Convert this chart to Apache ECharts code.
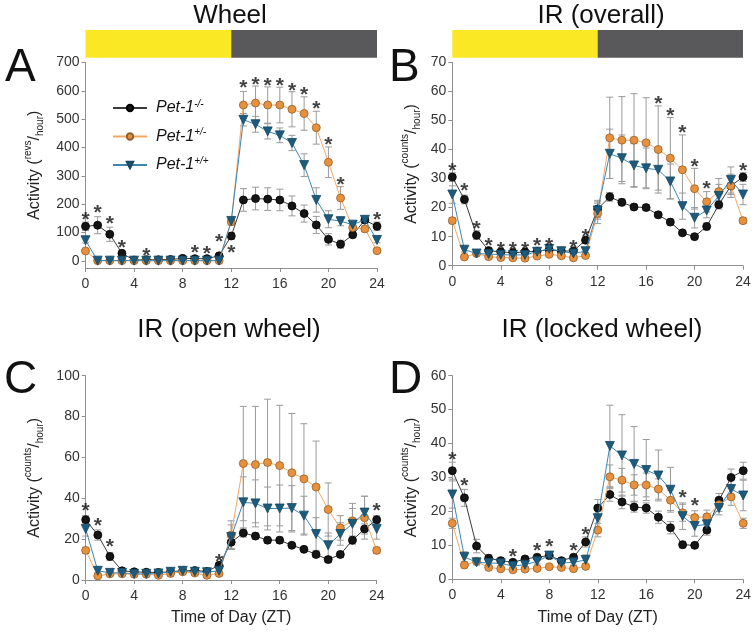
<!DOCTYPE html>
<html><head><meta charset="utf-8">
<script src="https://cdn.jsdelivr.net/npm/echarts@6/dist/echarts.min.js"></script>
<style>html,body{margin:0;padding:0;background:#fff}#c{width:754px;height:632px}</style>
</head><body><div id="c"></div>
<script>
// ---------- DATA ----------
const hours = [0,1,2,3,4,5,6,7,8,9,10,11,12,13,14,15,16,17,18,19,20,21,22,23,24];
const seriesNames = ['Pet-1-/-','Pet-1+/-','Pet-1+/+'];
const phaseSpans = [[0,12],[12,24]];          // light, dark
const wheelTicks = [0,100,200,300,400,500,600,700];

// Panel A – Wheel (revs/hour)
const wheel_ko      = [122,126,94,27,3,4,4,5,9,8,8,18,88,215,220,218,215,194,167,127,76,59,92,144,122];
const wheel_ko_err  = [15,30,25,8,2,2,2,2,3,3,3,5,12,40,40,40,38,35,30,30,20,14,10,10,15];
const wheel_het     = [35,1,1,1,1,1,1,1,1,1,1,1,138,550,557,550,550,535,520,470,348,222,118,113,36];
const wheel_het_err = [6,1,1,1,1,1,1,1,1,1,1,1,12,48,60,64,63,62,59,58,54,40,10,10,6];
const wheel_wt      = [73,1,1,1,1,1,1,1,1,1,1,1,141,498,482,457,443,416,338,215,147,140,128,145,74];
const wheel_wt_err  = [10,1,1,1,1,1,1,1,1,1,1,1,12,22,28,27,26,27,40,43,30,16,8,10,10];
const wheel_stars   = [[0,162],[1,186],[2,146],[3,63],[5,35],[9,45],[10,42],[11,82],[12,44],[13,628],[14,638],[15,634],[16,634],[17,618],[18,604],[19,552],[20,425],[21,283],[24,162]];

// Panel B – IR overall (counts/hour)
const ir_ko      = [30.5,22.8,10.5,5.2,4.7,4.5,4.7,5.0,5.5,5.0,5.1,8.8,19.5,23.7,21.8,20.2,20.0,17.5,15.0,11.3,10.0,13.5,21.0,27.5,30.5];
const ir_ko_err  = [1.5,1.5,1.5,0.8,0.6,0.6,0.6,0.6,0.6,0.6,0.6,1.2,3,1.5,1.2,1,1,1,1,0.8,0.6,1.2,1.5,3,1.5];
const ir_het     = [15.5,3.0,4.2,3.1,2.8,2.7,2.6,3.3,3.9,3.4,2.7,3.5,18.0,44.0,43.2,43.2,42.3,40.0,37.0,33.0,26.5,22.0,25.5,27.5,15.5];
const ir_het_err = [1,0.6,0.5,0.5,0.5,0.5,0.5,0.5,0.6,0.5,0.5,0.6,3.5,14,15,16,15.5,15,14,12,7,3.5,4.5,4,1];
const ir_wt      = [24.5,5.5,4.2,4.0,3.8,3.7,3.7,4.8,5.8,5.0,4.2,5.0,19.0,38.5,37.0,34.5,33.5,33.0,29.0,20.5,16.5,19.0,24.0,29.5,24.5];
const ir_wt_err  = [3,0.8,0.5,0.5,0.5,0.5,0.5,0.6,0.6,0.6,0.5,0.6,3,8.5,8,7.5,7,7,6,4.5,3.5,2.5,4,4.5,3.5];
const ir_stars   = [[0,34.4],[1,27.2],[2,14.3],[3,8.3],[4,7.1],[5,7.1],[6,7.1],[7,8.3],[8,8.3],[10,7.9],[11,11.5],[17,57.4],[18,53],[19,47.3],[20,35.6],[21,28],[24,34.4]];

// Panel C – IR open wheel
const open_ko      = [29.5,22,11.5,4.5,4.0,3.8,3.7,4.0,4.5,4.6,4.2,7.2,18.5,23,21.5,19.5,19.5,17,15,12.5,10,12.5,19.5,25,29.5];
const open_ko_err  = [2,2.5,2,0.8,0.6,0.6,0.6,0.6,0.6,0.6,0.6,1.2,3,2,1.5,1.5,1.5,1,1,1.5,1.5,1.5,2,2.5,2];
const open_het     = [14.5,2.0,3.0,3.0,2.8,2.8,2.3,3.2,4.0,3.4,2.3,3.2,22,57,56.5,57.5,56,52.5,49.5,45.5,34.5,25.5,29,30.5,14.5];
const open_het_err = [1.5,0.5,0.5,0.5,0.5,0.5,0.5,0.5,0.5,0.5,0.5,0.5,7,28,28.5,31,29.5,29,27,22.5,13,6,8.5,10.5,1.5];
const open_wt      = [25,4.5,3.5,3.5,3.0,3.0,3.2,4.0,4.5,4.0,3.8,4.5,21,38,37.5,35,35,35.2,31.5,22.5,17,22.5,27.5,33,25];
const open_wt_err  = [3.5,1,0.5,0.5,0.5,0.5,0.5,0.5,0.5,0.5,0.5,0.8,6,12.5,11.5,10.5,11.5,11,9.5,8,6,5.5,7.5,8,5];
const open_stars   = [[0,35.9],[1,29],[2,18.3],[11,11.4],[24,35.9]];

// Panel D – IR locked wheel
const lock_ko      = [32,24,9.8,6.2,5.5,5.0,6.0,6.5,7.0,5.5,6.5,11.0,21.0,25.0,22.8,21.3,21.0,18.3,15.2,10.2,10.0,14.5,23.3,30.0,32];
const lock_ko_err  = [2.5,2.5,2,1,0.8,0.8,0.8,0.8,0.8,0.8,0.8,1.5,2.5,2,2,1.5,1.5,1.8,1.8,1,0.8,1.5,2,2.5,2.5];
const lock_het     = [16.5,4.2,5.3,3.5,3.1,2.8,3.0,3.2,3.7,3.5,3.1,3.8,14.5,30.2,29.2,27.8,27.8,26.6,23.3,19.6,18.2,18.4,22.0,24.3,16.5];
const lock_het_err = [1.5,0.8,0.5,0.5,0.5,0.5,0.5,0.5,0.5,0.5,0.5,0.6,2,3.5,3.5,3,3.5,3,3,2.5,2,2,2,2.5,1.5];
const lock_wt      = [25,6.6,5.0,4.8,4.7,3.9,4.3,5.3,7.0,4.8,5.0,5.7,18.0,39.3,36.5,34.0,32.2,30.6,26.4,18.6,15.7,16.2,21.0,26.6,24.7];
const lock_wt_err  = [4,1.5,0.8,0.8,0.8,0.8,0.8,0.8,1,0.8,0.8,1.5,3,12,12,11,9,7.5,6.6,3.9,3,2.5,2,3,4.5];
const lock_stars   = [[0,36.6],[1,28.8],[5,7.9],[7,9.8],[8,10.8],[10,9.8],[11,14.5],[19,25.3],[20,23.1]];

// ---------- STYLE ----------
const FONT = '"Liberation Sans", Arial, sans-serif';
const AXIS_COLOR = '#8f8f8f';
const LABEL_COLOR = '#333';
const styles = [
  {line:'#3a3a3a', fill:'#151515', border:'#000000', symbol:'circle', size:8, rot:0},
  {line:'#f2a765', fill:'#e8913c', border:'#94602f', symbol:'circle', size:8, rot:0},
  {line:'#3d86b2', fill:'#1d5b7c', border:'#164862', symbol:'triangle', size:9, rot:180}
];

const grids = [
  {left:85.5, top:62.5, width:291.5, height:205.5},   // A
  {left:452.3, top:62.3, width:290.7, height:203.4},  // B
  {left:85.7, top:375.7, width:291, height:204.3},    // C
  {left:452.3, top:375.7, width:291, height:203.6},   // D
  {left:85.5, top:30, width:291.5, height:27.7},      // bar A
  {left:452.3, top:30, width:290.7, height:27.7}      // bar B
];

function errRender(params, api) {
  const x = api.value(0), lo = api.value(1), hi = api.value(2);
  const p1 = api.coord([x, hi]), p2 = api.coord([x, lo]);
  const w = 3.5, st = {stroke:'#9a9a9a', lineWidth:1};
  return {type:'group', children:[
    {type:'line', shape:{x1:p1[0], y1:p1[1], x2:p2[0], y2:p2[1]}, style:st},
    {type:'line', shape:{x1:p1[0]-w, y1:p1[1], x2:p1[0]+w, y2:p1[1]}, style:st},
    {type:'line', shape:{x1:p2[0]-w, y1:p2[1], x2:p2[0]+w, y2:p2[1]}, style:st}
  ]};
}
function phaseRender(params, api) {
  const a = api.coord([api.value(0), 1]), b = api.coord([api.value(1), 0]);
  return {type:'rect', shape:{x:a[0], y:a[1], width:b[0]-a[0], height:b[1]-a[1]},
    style:{fill: params.dataIndex === 0 ? '#fbe824' : '#59595b'}};
}

const series = [];
function addPanel(idx, sets, stars) {
  sets.forEach((s, k) => {
    series.push({type:'custom', xAxisIndex:idx, yAxisIndex:idx, silent:true, z:1,
      renderItem: errRender, encode:{x:0, y:[1,2]},
      data: hours.map((h,i) => [h, s[0][i]-s[1][i], s[0][i]+s[1][i]])});
  });
  [1,0,2].forEach(k => {
    const st = styles[k];
    series.push({type:'line', name:seriesNames[k], xAxisIndex:idx, yAxisIndex:idx, z:3 + k*0.1,
      data: hours.map((h,i) => [h, sets[k][0][i]]),
      symbol: st.symbol, symbolSize: st.size, symbolRotate: st.rot, showAllSymbol:true,
      lineStyle:{color:st.line, width:1},
      itemStyle:{color:st.fill, borderColor:st.border, borderWidth:0.8},
      emphasis:{disabled:true}, animation:false});
  });
  series.push({type:'scatter', xAxisIndex:idx, yAxisIndex:idx, z:5, silent:true,
    data: stars, symbolSize:1, itemStyle:{color:'rgba(0,0,0,0)'},
    label:{show:true, formatter:'*', position:'inside', fontSize:21, fontWeight:'bold', color:'#111',
      fontFamily:FONT, offset:[0,5]}});
}
addPanel(0, [[wheel_ko,wheel_ko_err],[wheel_het,wheel_het_err],[wheel_wt,wheel_wt_err]], wheel_stars);
addPanel(1, [[ir_ko,ir_ko_err],[ir_het,ir_het_err],[ir_wt,ir_wt_err]], ir_stars);
addPanel(2, [[open_ko,open_ko_err],[open_het,open_het_err],[open_wt,open_wt_err]], open_stars);
addPanel(3, [[lock_ko,lock_ko_err],[lock_het,lock_het_err],[lock_wt,lock_wt_err]], lock_stars);
[4,5].forEach(idx => series.push({type:'custom', xAxisIndex:idx, yAxisIndex:idx, silent:true,
  renderItem: phaseRender, encode:{x:[0,1]}, data: phaseSpans}));

const yName = unit => '{a|Activity (}{s|' + unit + '}{a|/}{b|hour}{a|)}';
const nameRich = {
  a:{fontSize:16, fontFamily:FONT, color:'#222', lineHeight:22},
  s:{fontSize:10, fontFamily:FONT, color:'#222', verticalAlign:'top'},
  b:{fontSize:10, fontFamily:FONT, color:'#222', verticalAlign:'bottom'}
};
function xAx(idx, withName) {
  return {type:'value', gridIndex:idx, min:0, max:24, interval:4,
    axisLine:{onZero:false, lineStyle:{color:AXIS_COLOR, width:1}},
    axisTick:{show:true, length:4, lineStyle:{color:AXIS_COLOR}},
    axisLabel:{fontSize:14, color:LABEL_COLOR, fontFamily:FONT, margin:9},
    splitLine:{show:false},
    name: withName ? 'Time of Day (ZT)' : '', nameLocation:'middle', nameGap:30,
    nameTextStyle:{fontSize:16, fontFamily:FONT, color:'#222'}};
}
function yAx(idx, opt, unit, gap) {
  return Object.assign({type:'value', gridIndex:idx,
    axisLine:{show:true, lineStyle:{color:AXIS_COLOR, width:1}},
    axisTick:{show:true, length:4, lineStyle:{color:AXIS_COLOR}},
    axisLabel:{fontSize:14, color:LABEL_COLOR, fontFamily:FONT, margin:6},
    splitLine:{show:false},
    name: yName(unit), nameLocation:'middle', nameRotate:90, nameGap:gap,
    nameTextStyle:{rich:nameRich}}, opt);
}
const xAxes = [xAx(0,false), xAx(1,false), xAx(2,true), xAx(3,true)];
const yAxes = [
  yAx(0, {min:-25, max:700, axisLabel:{fontSize:14, color:LABEL_COLOR, fontFamily:FONT, margin:6, customValues:wheelTicks},
          axisTick:{show:true, length:4, lineStyle:{color:AXIS_COLOR}, customValues:wheelTicks}}, 'revs', 40),
  yAx(1, {min:0, max:70, interval:10}, 'counts', 30),
  yAx(2, {min:0, max:100, interval:20}, 'counts', 40),
  yAx(3, {min:0, max:60, interval:10}, 'counts', 30)
];
[4,5].forEach(idx => {
  xAxes.push({type:'value', gridIndex:idx, min:0, max:24, show:false});
  yAxes.push({type:'value', gridIndex:idx, min:0, max:1, show:false});
});

const titleBase = {padding:0, textAlign:'center',
  textStyle:{fontFamily:FONT, fontWeight:'normal', fontSize:26, color:'#111'}};
const letterBase = {padding:0, textAlign:'left',
  textStyle:{fontFamily:FONT, fontWeight:'normal', fontSize:46, color:'#111'}};
const titles = [
  Object.assign({text:'Wheel', left:230, top:3}, titleBase),
  Object.assign({text:'IR (overall)', left:601, top:3}, titleBase),
  Object.assign({text:'IR (open wheel)', left:229, top:317}, titleBase),
  Object.assign({text:'IR (locked wheel)', left:602, top:317}, titleBase),
  Object.assign({text:'A', left:5, top:45}, letterBase),
  Object.assign({text:'B', left:389, top:45}, letterBase),
  Object.assign({text:'C', left:4, top:357}, letterBase),
  Object.assign({text:'D', left:389, top:357}, letterBase)
];

const chart = echarts.init(document.getElementById('c'), null, {renderer:'canvas'});
chart.setOption({
  animation:false,
  backgroundColor:'#ffffff',
  title: titles,
  grid: grids,
  xAxis: xAxes,
  yAxis: yAxes,
  legend: {
    data: seriesNames, orient:'vertical', left:112, top:99, padding:0,
    itemWidth:34, itemHeight:8, itemGap:11.5, selectedMode:false,
    formatter: n => '{i|Pet-1}{s|' + n.slice(5) + '}',
    textStyle:{rich:{
      i:{fontSize:16, fontStyle:'italic', fontFamily:FONT, color:'#111', lineHeight:18, padding:[0,0,0,4]},
      s:{fontSize:10, fontStyle:'italic', fontFamily:FONT, color:'#111', verticalAlign:'top'}
    }}
  },
  series: series
});
</script></body></html>
